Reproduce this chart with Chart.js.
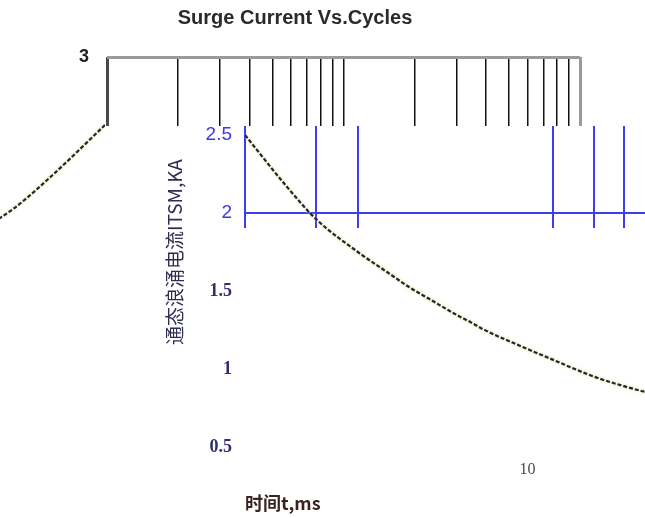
<!DOCTYPE html>
<html><head><meta charset="utf-8">
<script src="https://cdn.jsdelivr.net/npm/chart.js@4.4.1/dist/chart.umd.min.js"></script>
<style>
html,body{margin:0;padding:0;background:#fff;width:645px;height:518px;overflow:hidden;}
.strip{position:absolute;overflow:hidden;}
.strip canvas{position:absolute;}
</style></head><body>
<div class="strip" style="left:0;top:0;width:645px;height:126px"><canvas id="cA" width="645" height="518" style="left:0;top:0"></canvas></div>
<div class="strip" style="left:0;top:126px;width:645px;height:102px"><canvas id="cB1" width="760" height="518" style="left:0;top:-126px"></canvas></div>
<div class="strip" style="left:0;top:228px;width:645px;height:290px"><canvas id="cB2" width="760" height="518" style="left:0;top:-228px"></canvas></div>
<div class="strip" style="left:0;top:115px;width:108px;height:105px;z-index:5"><canvas id="cC" width="645" height="518" style="left:0;top:-115px"></canvas></div>
<script>
// ---- data ----
const cycles  = [1, 1.5, 2, 3, 4, 5, 6, 7, 8, 9, 10, 15, 20, 30, 40, 50];
const surgeKA = [2.5, 2.17, 1.96, 1.75, 1.62, 1.52, 1.45, 1.39, 1.34, 1.30, 1.26, 1.14, 1.06, 0.95, 0.89, 0.85];
const xGridTicks = [1, 2, 3, 4, 5, 6, 7, 8, 9, 10, 20, 30, 40, 50, 60, 70, 80, 90, 100];
const xLabelTicks = [10, 100];
const yTicks = [0.5, 1, 1.5, 2, 2.5, 3];
const blueXGrid = [1, 2, 3, 20, 30, 40];
const chartTitle = 'Surge Current Vs.Cycles';
const xTitle = '时间t,ms';
const yTitle = '通态浪涌电流ITSM,KA';

const tv = c => (c && c.tick) ? c.tick.value : NaN;
const setTicks = vals => s => { s.ticks = vals.map(v => ({ value: v })); };
const glow = {
  id: 'glow',
  beforeDatasetDraw(chart) { const c = chart.ctx; c.save(); c.shadowColor = 'rgba(228,218,90,0.95)'; c.shadowBlur = 3; },
  afterDatasetDraw(chart) { chart.ctx.restore(); }
};
function curveDataset() {
  return {
    label: 'ITSM',
    data: cycles.map((c, i) => ({ x: c, y: surgeKA[i] })),
    borderColor: '#20243f', borderWidth: 2.2, borderDash: [4, 2],
    pointRadius: 0, cubicInterpolationMode: 'monotone', fill: false
  };
}
const basePlugins = { legend: { display: false }, tooltip: { enabled: false } };

// ---- strip A: frame top with log grid ----
new Chart(document.getElementById('cA'), {
  type: 'line',
  data: { datasets: [curveDataset()] },
  options: {
    responsive: false, animation: false, events: [],
    layout: { padding: { left: 10, right: 65, top: 6, bottom: 0 } },
    plugins: Object.assign({}, basePlugins, {
      title: { display: true, text: chartTitle, color: '#2a2a2a',
        font: { family: 'Liberation Sans, Arial', size: 20, weight: 'bold' }, padding: { top: 0, bottom: 27 } }
    }),
    scales: {
      x: { type: 'logarithmic', min: 1, max: 100, afterBuildTicks: setTicks(xGridTicks), afterFit: s => { s.height = 71; },
        grid: { drawTicks: false,
          color: c => tv(c) === 1 ? '#4a4a4a' : (tv(c) === 100 ? '#9a9a9a' : '#111'),
          lineWidth: c => (tv(c) === 1 || tv(c) === 100) ? 3 : 1.5 },
        border: { display: false }, ticks: { display: false } },
      y: { min: 0.5, max: 3, afterBuildTicks: setTicks(yTicks), afterFit: s => { s.width = 97; },
        grid: { drawTicks: false, color: c => tv(c) === 3 ? '#9a9a9a' : 'transparent', lineWidth: 3 },
        border: { display: false },
        ticks: { padding: 18, color: '#222', font: { family: 'Liberation Sans, Arial', size: 18, weight: 'bold' },
          callback: v => v === 3 ? '3' : '' } }
    }
  },
  plugins: [glow]
});

// ---- strips B: main plot ----
function makeB(id, showGrid) {
  new Chart(document.getElementById(id), {
    type: 'line',
    data: { datasets: [curveDataset()] },
    options: {
      responsive: false, animation: false, events: [],
      layout: { padding: { left: 158, right: 42, top: 57, bottom: 0 } },
      plugins: basePlugins,
      scales: {
        x: { type: 'logarithmic', min: 1, max: 100, afterBuildTicks: setTicks(xGridTicks), afterFit: s => { s.height = 71; },
          grid: { display: showGrid, drawTicks: false,
            color: c => blueXGrid.includes(tv(c)) ? '#3c3cf0' : 'transparent', lineWidth: 2 },
          border: { display: false },
          ticks: { autoSkip: false, maxRotation: 0, padding: 13, labelOffset: 46, color: '#4a4a4a',
            font: { family: 'Liberation Serif', size: 16 },
            callback: v => xLabelTicks.includes(v) ? String(v) : '' },
          title: { display: true, align: 'start', text: xTitle, color: '#3a2323',
            font: { family: 'Noto Sans CJK SC', size: 18, weight: 'bold' }, padding: { top: 0, bottom: 4 } } },
        y: { min: 0.5, max: 3, afterBuildTicks: setTicks(yTicks), afterFit: s => { s.width = 87; },
          grid: { display: showGrid, drawTicks: false,
            color: c => tv(c) === 2 ? '#3c3cf0' : 'transparent', lineWidth: 2 },
          border: { display: false },
          ticks: { padding: 13,
            callback: v => String(v),
            color: c => tv(c) >= 2 ? '#3b3be6' : '#2e2e78',
            font: c => tv(c) >= 2 ? { family: 'Liberation Sans', size: 19 } : { family: 'Liberation Serif', size: 18, weight: 'bold' } },
          title: { display: true, text: yTitle, color: '#2e2e52',
            font: { family: 'Noto Sans CJK SC', size: 19 }, padding: { top: 5, bottom: 0 } } }
      }
    },
    plugins: [glow]
  });
}
makeB('cB1', true);
makeB('cB2', false);

// ---- strip C: mirrored fragment of the curve at left ----
new Chart(document.getElementById('cC'), {
  type: 'line',
  data: { datasets: [curveDataset()] },
  options: {
    responsive: false, animation: false, events: [],
    layout: { padding: { left: 0, right: 540, top: 47, bottom: 81 } },
    plugins: basePlugins,
    scales: {
      x: { type: 'logarithmic', reverse: true, min: 1, max: 2.2, display: false },
      y: { min: 0.5, max: 3, display: false }
    }
  },
  plugins: [glow]
});
</script>
</body></html>
